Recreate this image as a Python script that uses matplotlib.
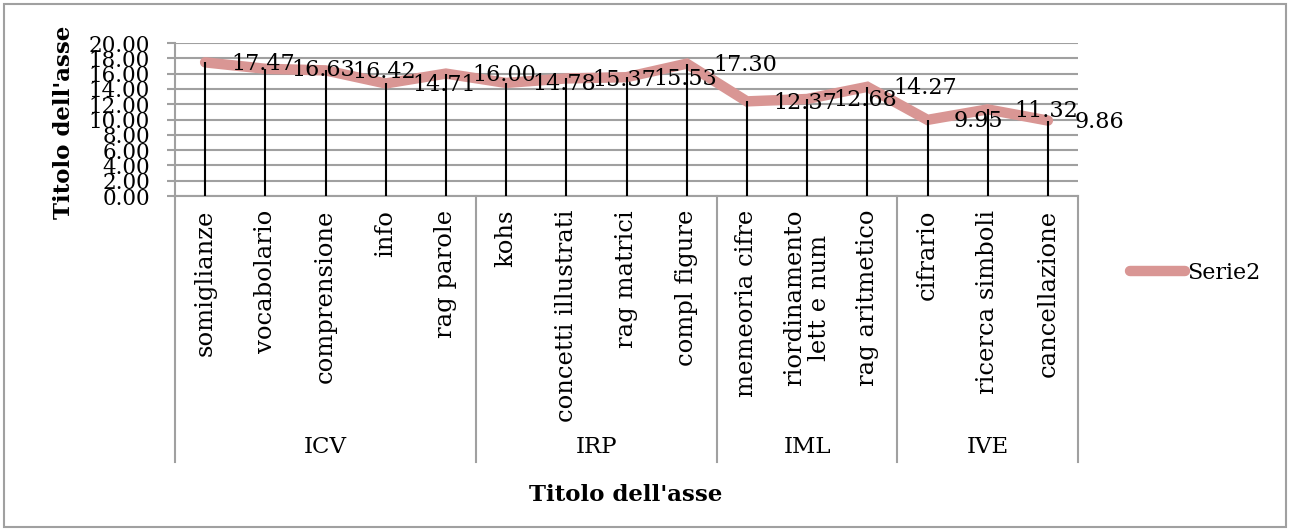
import numpy as np
import matplotlib.pyplot as plt
from matplotlib.patches import Rectangle

# data
categories = ["somiglianze", "vocabolario", "comprensione", "info", "rag parole",
              "kohs", "concetti illustrati", "rag matrici", "compl figure",
              "memeoria cifre", "riordinamento\nlett e num", "rag aritmetico",
              "cifrario", "ricerca simboli", "cancellazione"]
values = [17.47, 16.63, 16.42, 14.71, 16.00,
          14.78, 15.37, 15.53, 17.30,
          12.37, 12.68, 14.27,
          9.95, 11.32, 9.86]
groups = ["ICV", "IRP", "IML", "IVE"]
group_sizes = [5, 4, 3, 3]

LINE_COL = "#D99694"
GRID_COL = "#A0A0A0"
FONT = "DejaVu Serif"

plt.rcParams['font.family'] = FONT

fig = plt.figure(figsize=(12.9, 5.31), dpi=100)
ax = fig.add_axes([175/1290, 1 - 196/531, (1078-175)/1290, (196-43)/531])

x = np.arange(len(values))

# drop lines
ax.vlines(x, 0, values, color="black", lw=1.5, zorder=3)
# the series
ax.plot(x, values, color=LINE_COL, lw=7.5, solid_capstyle="round",
        solid_joinstyle="miter", zorder=2, label="Serie2")
# data labels, right of each point
for xi, v in zip(x, values):
    ax.annotate("%.2f" % v, (xi, v), xytext=(19, -1), textcoords="offset points",
                ha="left", va="center", fontsize=16, zorder=4)

ax.set_xlim(-0.5, len(values) - 0.5)
ax.set_ylim(0, 20)
ax.set_yticks(np.arange(0, 21, 2))
ax.set_yticklabels(["%.2f" % t for t in np.arange(0, 21, 2)])
ax.yaxis.grid(True, color=GRID_COL, lw=1.5)
ax.set_axisbelow(True)
ax.tick_params(axis="y", length=6, width=1.5, color=GRID_COL, pad=12, labelsize=15.5)

ax.set_xticks(x)
ax.set_xticklabels(categories, rotation=90, fontsize=17.5, va="top",
                   multialignment="center", linespacing=1.1)
ax.tick_params(axis="x", length=0, pad=10)

for s in ["top", "right"]:
    ax.spines[s].set_visible(False)
ax.spines["left"].set_color(GRID_COL)
ax.spines["left"].set_linewidth(1.5)
ax.spines["bottom"].set_color(GRID_COL)
ax.spines["bottom"].set_linewidth(1.5)

# group boxes under the category labels
trans = ax.get_xaxis_transform()
bounds = np.concatenate([[0], np.cumsum(group_sizes)]) - 0.5
box_bottom = (196 - 462) / (196 - 43)
for b in bounds:
    ax.plot([b, b], [0, box_bottom], color=GRID_COL, lw=1.5,
            transform=trans, clip_on=False)
for g, lo, hi in zip(groups, bounds[:-1], bounds[1:]):
    ax.text((lo + hi) / 2, (196 - 447) / (196 - 43), g, transform=trans,
            ha="center", va="center", fontsize=16.5)

# axis titles
fig.text(64/1290, 1 - 122/531, "Titolo dell'asse", rotation=90, ha="center",
         va="center", fontsize=16.5, fontweight="bold")
fig.text(626/1290, 1 - 495/531, "Titolo dell'asse", ha="center", va="center",
         fontsize=16.5, fontweight="bold")

leg = ax.legend(loc="center left", bbox_to_anchor=(1.035, (196 - 273) / (196 - 43)),
                frameon=False, fontsize=16, handlelength=2.5, handletextpad=0.1)

# chart border
fig.patches.append(Rectangle((4/1290, 4/531), 1 - 8/1290, 1 - 8/531,
                             transform=fig.transFigure, fill=False,
                             edgecolor=GRID_COL, lw=1.5))

fig.savefig("out.png", dpi=100)
